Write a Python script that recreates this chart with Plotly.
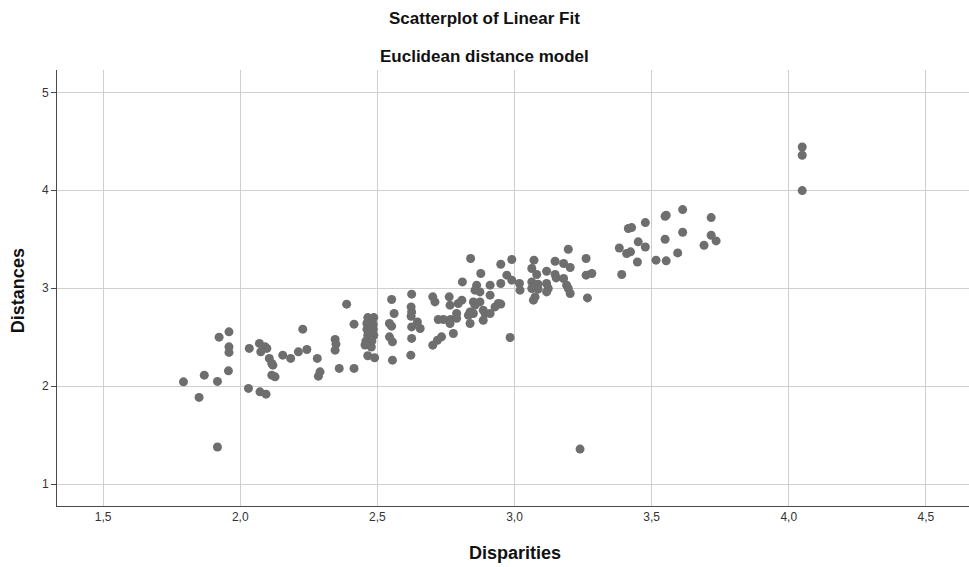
import plotly.graph_objects as go

# Data (Disparities, Distances)
disparities = [
    1.793, 1.850, 1.869, 1.917, 1.923, 1.917, 1.959, 1.959, 1.959, 1.957,
    2.033, 2.070, 2.091, 2.097, 2.075, 2.106, 2.115, 2.119, 2.115, 2.127,
    2.030, 2.072, 2.094, 2.155, 2.184, 2.212, 2.243, 2.228, 2.281, 2.291,
    2.285, 2.346, 2.349, 2.346, 2.361, 2.415, 2.388, 2.415,
    2.465, 2.487, 2.462, 2.485, 2.462, 2.485, 2.465, 2.487, 2.458, 2.480,
    2.455, 2.478, 2.465, 2.490,
    2.552, 2.561, 2.544, 2.552, 2.544, 2.555, 2.555,
    2.625, 2.623, 2.625, 2.623, 2.646, 2.625, 2.656, 2.625, 2.622,
    2.702, 2.710, 2.762, 2.765, 2.722, 2.741, 2.767, 2.765, 2.789, 2.789,
    2.777, 2.734, 2.719, 2.702,
    2.808, 2.795, 2.850, 2.856, 2.874, 2.941, 2.929, 2.886, 2.893, 2.838,
    2.850, 2.832, 2.911, 2.886, 2.838, 2.984,
    2.840, 2.950, 2.990, 2.877, 2.810, 2.972, 2.990, 2.950, 3.018, 3.020,
    2.862, 2.856, 2.874, 2.911, 2.911, 2.950,
    3.196, 3.261, 3.071, 3.148, 3.179, 3.203, 3.063, 3.081, 3.117, 3.148,
    3.152, 3.063, 3.063, 3.086, 3.086, 3.117, 3.123, 3.179, 3.190, 3.196,
    3.117, 3.075, 3.069, 3.203, 3.261, 3.282, 3.266,
    3.382, 3.391, 3.409, 3.423, 3.415, 3.427, 3.451, 3.448, 3.477, 3.477,
    3.549, 3.553, 3.549, 3.516, 3.553, 3.613, 3.613, 3.595, 3.717, 3.717,
    3.735, 3.691,
    4.049, 4.049, 4.049, 3.239,
]
distances = [
    2.044, 1.885, 2.112, 2.048, 2.500, 1.378, 2.554, 2.401, 2.344, 2.156,
    2.385, 2.436, 2.401, 2.385, 2.350, 2.283, 2.231, 2.214, 2.112, 2.095,
    1.977, 1.942, 1.918, 2.316, 2.283, 2.350, 2.374, 2.582, 2.283, 2.146,
    2.102, 2.477, 2.429, 2.367, 2.181, 2.181, 2.837, 2.633,
    2.700, 2.700, 2.640, 2.630, 2.580, 2.580, 2.520, 2.520, 2.460, 2.460,
    2.420, 2.400, 2.310, 2.290,
    2.885, 2.742, 2.640, 2.612, 2.503, 2.452, 2.265,
    2.939, 2.809, 2.758, 2.714, 2.656, 2.605, 2.589, 2.487, 2.316,
    2.912, 2.860, 2.912, 2.827, 2.680, 2.680, 2.680, 2.640, 2.742, 2.692,
    2.537, 2.503, 2.469, 2.418,
    2.878, 2.844, 2.860, 2.827, 2.860, 2.844, 2.809, 2.776, 2.742, 2.758,
    2.742, 2.724, 2.742, 2.673, 2.640, 2.497,
    3.303, 3.245, 3.293, 3.150, 3.064, 3.133, 3.082, 3.048, 3.048, 2.980,
    3.031, 2.980, 2.962, 3.031, 2.929, 2.838,
    3.398, 3.303, 3.286, 3.275, 3.252, 3.211, 3.201, 3.140, 3.173, 3.140,
    3.105, 3.064, 2.997, 3.041, 2.990, 3.048, 2.997, 3.099, 3.031, 2.997,
    2.962, 2.911, 2.878, 2.946, 3.133, 3.150, 2.901,
    3.411, 3.140, 3.354, 3.371, 3.609, 3.619, 3.473, 3.268, 3.670, 3.421,
    3.735, 3.745, 3.500, 3.286, 3.279, 3.803, 3.571, 3.360, 3.721, 3.541,
    3.483, 3.439,
    4.442, 4.357, 3.997, 1.357,
]

x_ticks = [1.5, 2.0, 2.5, 3.0, 3.5, 4.0, 4.5]
y_ticks = [1, 2, 3, 4, 5]

title_text = "Scatterplot of Linear Fit"
subtitle_text = "Euclidean distance model"
x_title = "Disparities"
y_title = "Distances"

FONT = "Liberation Sans, Arial, sans-serif"

fig = go.Figure()
fig.add_trace(go.Scatter(
    x=disparities, y=distances, mode="markers",
    marker=dict(color="#6e6e6e", size=9, line=dict(width=0)),
    showlegend=False, hoverinfo="skip",
))

fig.update_layout(
    template="none",
    width=969, height=567,
    margin=dict(l=57, r=0, t=70, b=61),
    paper_bgcolor="white", plot_bgcolor="white",
    separators=", ",
    font=dict(family=FONT, color="#222"),
    showlegend=False,
)

fig.update_xaxes(
    range=[1.332, 4.657], tickvals=x_ticks, tickformat=".1f",
    showgrid=True, gridcolor="#cfcfcf", gridwidth=1,
    showline=True, linecolor="#4a4a4a", linewidth=1,
    ticks="", zeroline=False,
    tickfont=dict(family=FONT, size=12, color="#333"),
)
fig.update_yaxes(
    range=[0.776, 5.228], tickvals=y_ticks,
    showgrid=True, gridcolor="#cfcfcf", gridwidth=1,
    showline=True, linecolor="#4a4a4a", linewidth=1,
    ticks="outside", ticklen=5, tickcolor="#4a4a4a", zeroline=False,
    tickfont=dict(family=FONT, size=12, color="#333"),
)

annotations = [
    dict(text="<b>%s</b>" % title_text, x=0.4688, y=1.119, xref="paper", yref="paper",
         xanchor="center", yanchor="middle", showarrow=False,
         font=dict(family=FONT, size=17, color="#111")),
    dict(text="<b>%s</b>" % subtitle_text, x=0.4688, y=1.030, xref="paper", yref="paper",
         xanchor="center", yanchor="middle", showarrow=False,
         font=dict(family=FONT, size=17, color="#111")),
    dict(text="<b>%s</b>" % x_title, x=0.502, y=-0.1078, xref="paper", yref="paper",
         xanchor="center", yanchor="middle", showarrow=False,
         font=dict(family=FONT, size=18, color="#111")),
    dict(text="<b>%s</b>" % y_title, x=-0.0428, y=0.495, xref="paper", yref="paper",
         xanchor="center", yanchor="middle", showarrow=False, textangle=-90,
         font=dict(family=FONT, size=18, color="#111")),
]
fig.update_layout(annotations=annotations)

fig.write_html("out.html")
